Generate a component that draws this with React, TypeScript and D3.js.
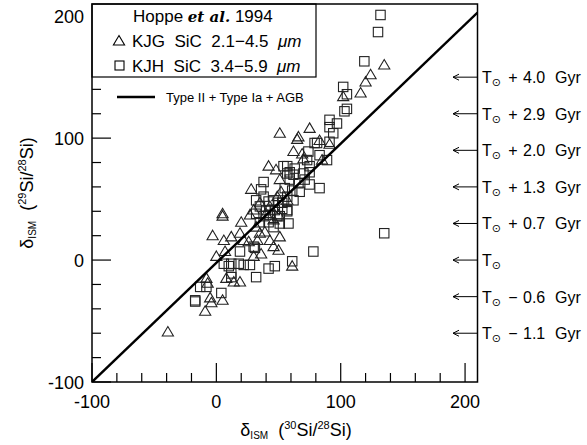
import React from "react";
import * as d3 from "d3";

// KJG SiC (triangles)
const kjgX = [135,124,120,116,102,91,75,66,51,65,83,62,69,70,85,42,48,51,28,52,5,5,20,-3,6,12,19,22,26,33,35,43,51,46,50,7,0,30,36,61,8,14,19,-8,-7,-5,5,-4,-9,-39,30,35,43,49,27,40,50,57,32,39,46];
const kjgY = [160,152,146,137,134,95,108,101,104,99,98,89,87,83,82,77,74,66,58,56,38,36,31,20,16,19,22,16,15,16,22,16,19,11,8,7,3,3,5,-5,-15,-18,-18,-15,-19,-31,-33,-35,-42,-59,41,47,44,52,37,38,37,49,27,23,33];
// KJH SiC (squares)
const kjhX = [132,130,119,102,105,105,103,91,97,91,94,81,79,91,74,83,89,73,75,63,57,54,70,75,59,66,71,55,61,67,75,83,57,62,53,57,51,57,59,62,38,36,135,78,61,30,31,19,6,12,18,22,27,10,42,47,12,12,32,-13,-8,4,-17,-17,32,38,42,46,50,35,40,47,53,32,38,43,49,57,35,42,46,51,58];
const kjhY = [201,187,163,142,136,124,122,115,112,109,104,96,96,97,89,86,82,82,77,75,71,77,71,72,66,63,66,59,57,56,62,59,52,49,47,41,36,77,72,70,64,58,22,7,-1,11,10,7,-3,-3,-3,-4,-4,-5,-7,-5,-11,-14,-14,-22,-22,-27,-33,-34,49,52,48,49,47,44,41,41,42,38,36,37,36,40,31,31,27,30,30];
// Model curve
const modelX = [-100, 210];
const modelY = [-100, 203];
// Age markers on right
const ageLevels = [150, 120, 90, 60, 30, 0, -30, -60];
const ageSigns = ["+", "+", "+", "+", "+", "", "−", "−"];
const ageValues = ["4.0", "2.9", "2.0", "1.3", "0.7", "", "0.6", "1.1"];
// Axis ticks
const majorTicks = [-100, 0, 100, 200];
const minorTicks = d3.range(-100, 201, 20);

const W = 587, H = 445;
const FONT = "'Liberation Sans', Arial, Helvetica, sans-serif";

export default function App() {
  const x = d3.scaleLinear().domain([-100, 210]).range([92, 477.5]);
  const y = d3.scaleLinear().domain([-100, 210]).range([382, 4]);
  const line = d3.line<number>().x((_, i) => x(modelX[i])).y((_, i) => y(modelY[i]));
  const tri = "M0,-5.5L5.6,4L-5.6,4Z";
  const sq = 9.4;
  const [x0, x1] = x.range();
  const [y0, y1] = y.range();
  return (
    <svg width={W} height={H} style={{ position: "absolute", left: 0, top: 0, background: "#fff" }} fontFamily={FONT}>
      <rect x={0} y={0} width={W} height={H} fill="#fff" />
      <defs>
        <clipPath id="plotclip">
          <rect x={x0} y={y1} width={x1 - x0} height={y0 - y1} />
        </clipPath>
      </defs>
      {/* ticks */}
      {minorTicks.map((t) => {
        const major = majorTicks.includes(t);
        const len = major ? 19 : 9;
        return (
          <g key={"t" + t} stroke="#000" strokeWidth={1.2}>
            <line x1={x(t)} x2={x(t)} y1={y0} y2={y0 - len} />
            <line x1={x0} x2={x0 + len} y1={y(t)} y2={y(t)} />
          </g>
        );
      })}
      {majorTicks.map((t) => (
        <g key={"l" + t} fontSize={18} fill="#000">
          <text x={x(t)} y={408} textAnchor="middle">{t}</text>
          <text x={84} y={y(t) + 6.5} textAnchor="end">{t}</text>
        </g>
      ))}
      {/* data */}
      <g clipPath="url(#plotclip)" fill="none" stroke="#222" strokeWidth={1.1}>
        {kjhX.map((v, i) => (
          <rect key={"s" + i} x={x(v) - sq / 2} y={y(kjhY[i]) - sq / 2} width={sq} height={sq} />
        ))}
        {kjgX.map((v, i) => (
          <path key={"g" + i} d={tri} transform={`translate(${x(v)},${y(kjgY[i])})`} />
        ))}
        <path d={line(modelX) || ""} stroke="#000" strokeWidth={2.4} />
      </g>
      {/* legend */}
      <rect x={x0} y={y1} width={316 - x0} height={77 - y1} fill="#fff" stroke="#000" strokeWidth={1.2} />
      <text x={133} y={22} fontSize={17} fill="#000" style={{ whiteSpace: "pre" }}>
        <tspan>Hoppe </tspan>
        <tspan fontFamily="'DejaVu Serif', serif" fontStyle="italic" fontWeight="bold" fontSize={15}>et al.</tspan>
        <tspan> 1994</tspan>
      </text>
      <path d={tri} transform="translate(119,41)" fill="none" stroke="#000" strokeWidth={1.1} />
      <text x={132} y={47} fontSize={17} fill="#000" style={{ whiteSpace: "pre" }}>
        <tspan>KJG  SiC  2.1−4.5  </tspan>
        <tspan fontStyle="italic">μm</tspan>
      </text>
      <rect x={115} y={61} width={9} height={9} fill="none" stroke="#000" strokeWidth={1.1} />
      <text x={132} y={72} fontSize={17} fill="#000" style={{ whiteSpace: "pre" }}>
        <tspan>KJH  SiC  3.4−5.9  </tspan>
        <tspan fontStyle="italic">μm</tspan>
      </text>
      <line x1={117} x2={155} y1={97} y2={97} stroke="#000" strokeWidth={2.4} />
      <text x={166} y={102} fontSize={13} fill="#000">Type II + Type Ia + AGB</text>
      {/* frame */}
      <rect x={x0} y={y1} width={x1 - x0} height={y0 - y1} fill="none" stroke="#000" strokeWidth={1.5} />
      {/* age arrows */}
      {ageLevels.map((lv, i) => {
        const yy = y(lv);
        return (
          <g key={"a" + i}>
            <g stroke="#000" strokeWidth={1} fill="none">
              <line x1={x1} x2={453} y1={yy} y2={yy} />
              <path d={`M459,${yy - 3}L453,${yy}L459,${yy + 3}`} />
            </g>
            <text x={482} y={yy + 6} fontSize={16} fill="#000">
              T<tspan fontSize={11} dy={3} fontFamily="'DejaVu Sans', sans-serif">⊙</tspan>
            </text>
            {ageSigns[i] && (
              <text x={513} y={yy + 6} fontSize={16} fill="#000" textAnchor="middle">{ageSigns[i]}</text>
            )}
            {ageValues[i] && (
              <text x={523} y={yy + 6} fontSize={16} fill="#000">{ageValues[i]}</text>
            )}
            {ageValues[i] && (
              <text x={555} y={yy + 6} fontSize={16} fill="#000">Gyr</text>
            )}
          </g>
        );
      })}
      {/* axis titles */}
      <text x={296} y={436} fontSize={18} textAnchor="middle" fill="#000" style={{ whiteSpace: "pre" }}>
        δ<tspan fontSize={10} dy={3}>ISM</tspan>
        <tspan dy={-3}>  (</tspan>
        <tspan fontSize={11} dy={-7}>30</tspan>
        <tspan dy={7}>Si/</tspan>
        <tspan fontSize={11} dy={-7}>28</tspan>
        <tspan dy={7}>Si)</tspan>
      </text>
      <text transform="translate(33,193) rotate(-90)" fontSize={18} textAnchor="middle" fill="#000" style={{ whiteSpace: "pre" }}>
        δ<tspan fontSize={10} dy={3}>ISM</tspan>
        <tspan dy={-3}>  (</tspan>
        <tspan fontSize={11} dy={-7}>29</tspan>
        <tspan dy={7}>Si/</tspan>
        <tspan fontSize={11} dy={-7}>28</tspan>
        <tspan dy={7}>Si)</tspan>
      </text>
    </svg>
  );
}
